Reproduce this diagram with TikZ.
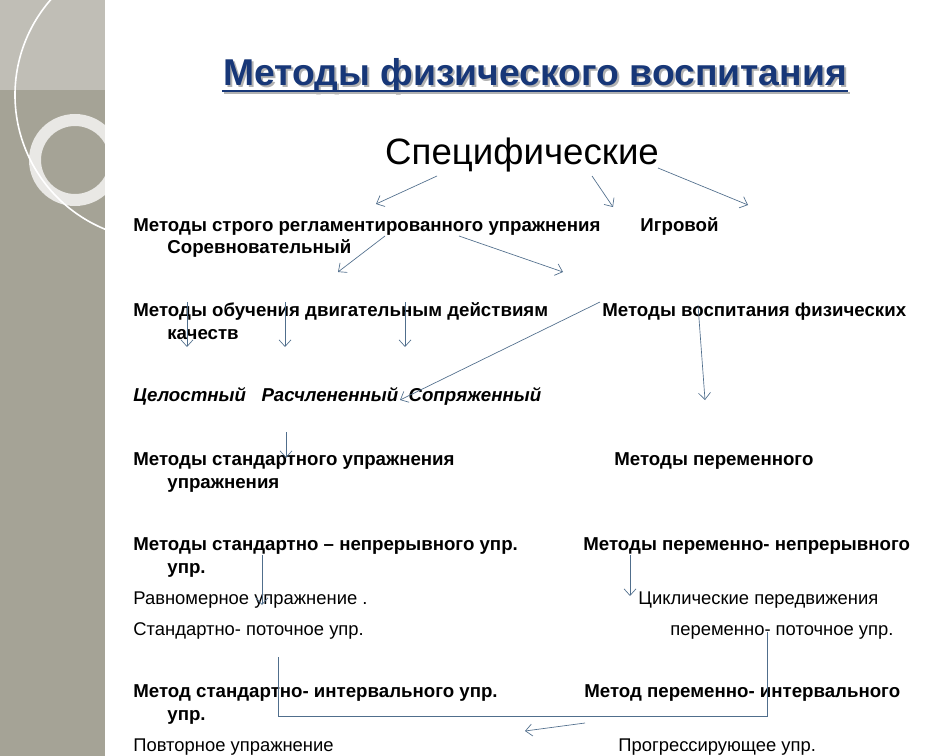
\documentclass[tikz,border=0pt]{standalone}
\usepackage{fontspec}
\setmainfont{Liberation Sans}
\usetikzlibrary{arrows.meta}
\definecolor{arrowblue}{RGB}{80,110,140}
\definecolor{titleblue}{RGB}{23,55,120}
\definecolor{bandgray}{RGB}{165,163,150}
\tikzset{every picture/.style={line width=0.6pt},
  txt/.style={anchor=base west,inner sep=0pt,font=\fontsize{14}{16}\selectfont\bfseries},
  plain/.style={anchor=base west,inner sep=0pt,font=\fontsize{13.8}{16}\selectfont},
  link/.style={draw=arrowblue,line width=0.5pt,-{Straight Barb[length=5pt,width=9pt]}}}
\begin{document}
\begin{tikzpicture}[x=0.75pt,y=0.75pt,yscale=-1,xscale=1]
\useasboundingbox (0,0) rectangle (945,756);
%Left band
\fill [bandgray] (0,0) rectangle (105,756);
\fill [bandgray!70!white] (0,0) rectangle (105,90);
\draw [white!75!bandgray,line width=9pt] (75,160) circle (40);
\draw [white,line width=1.2pt] (160,95) circle (145);
\fill [white] (105,0) rectangle (945,756);

% Title
\node [anchor=base,inner sep=0pt,text=gray!60] at (537,88) {\fontsize{28}{32}\selectfont\bfseries Методы физического воспитания};
\node (title) [anchor=base,inner sep=0pt,text=titleblue] at (535,86) {\fontsize{28}{32}\selectfont\bfseries Методы физического воспитания};
\draw [gray!60,line width=2pt] (224,93) -- (850,93);
\draw [titleblue,line width=2pt] (222,91) -- (848,91);
\node (spec) [anchor=base,inner sep=0pt] at (522,165) {\fontsize{27.5}{30}\selectfont Специфические};

% Text nodes
\node (n1) [txt] at (133,231) {Методы строго регламентированного упражнения};
\node (n2) [txt] at (640,231) {Игровой};
\node (n3) [txt] at (167,253) {Соревновательный};
\node (n4) [txt] at (133,316) {Методы обучения двигательным действиям};
\node (n5) [txt] at (602,316) {Методы воспитания физических};
\node (n6) [txt] at (167,339) {качеств};
\node (n7) [txt,font=\fontsize{14}{16}\selectfont\bfseries\itshape] at (133,401) {Целостный\ \ \ Расчлененный\ \ Сопряженный};
\node (n8) [txt] at (133,465) {Методы стандартного упражнения};
\node (n9) [txt] at (614,465) {Методы переменного};
\node (n10) [txt] at (167,488) {упражнения};
\node (n11) [txt] at (133,550) {Методы стандартно -- непрерывного упр.};
\node (n12) [txt] at (583,550) {Методы переменно- непрерывного};
\node (n13) [txt] at (167,573) {упр.};
\node (n14) [plain] at (133,604) {Равномерное упражнение .};
\node (n15) [plain] at (638,604) {Циклические передвижения};
\node (n16) [plain] at (133,635) {Стандартно- поточное упр.};
\node (n17) [plain] at (670,635) {переменно- поточное упр.};
\node (n18) [txt] at (133,697) {Метод стандартно- интервального упр.};
\node (n19) [txt] at (584,697) {Метод переменно- интервального};
\node (n20) [txt] at (167,720) {упр.};
\node (n21) [plain] at (133,751) {Повторное упражнение};
\node (n22) [plain] at (618,751) {Прогрессирующее упр.};

% Connectors
\draw [link] (437,176) -- (376,204);
\draw [link] (592,176) -- (613,207);
\draw [link] (658,168) -- (748,205);
\draw [link] (385,236) -- (338,272);
\draw [link] (459,236) -- (563,272);
\foreach \x in {187,285,405}
  \draw [link] (\x,302) -- (\x,347);
\draw [link] (600,302) -- (400,400);
\draw [link] (698,305) -- (705,400);
\draw [link] (286,432) -- (286,458);
\draw [link] (262,555) -- (262,605);
\draw [link] (630,555) -- (630,596);
\draw [draw=arrowblue,line width=0.5pt] (278,657) -- (278,716) -- (767,716) -- (767,632);
\draw [link] (585,723) -- (525,731);
\end{tikzpicture}
\end{document}
